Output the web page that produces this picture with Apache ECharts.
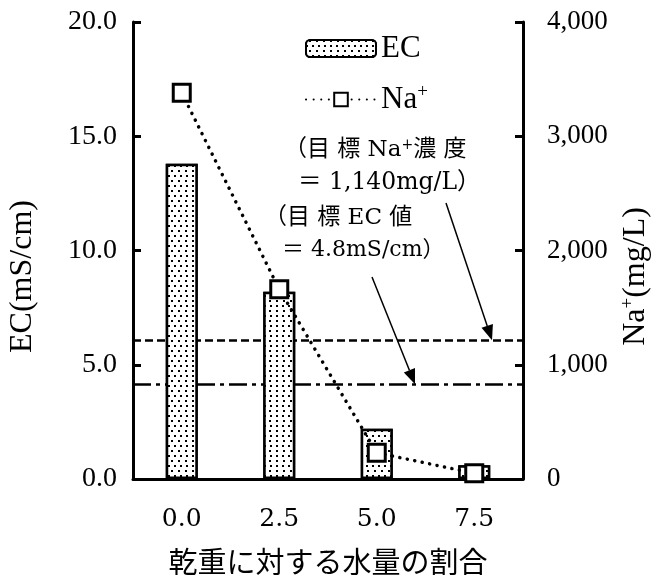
<!DOCTYPE html>
<html><head><meta charset="utf-8">
<script src="https://cdn.jsdelivr.net/npm/echarts@6/dist/echarts.min.js"></script>
<style>html,body{margin:0;padding:0;background:#fff}#c{width:659px;height:575px}</style>
</head><body><div id="c"></div>
<script>
// ---- data ----
const categories = ['0.0', '2.5', '5.0', '7.5'];
const ecValues = [13.8, 8.2, 2.2, 0.6];          // EC (mS/cm), bars, left axis
const naValues = [3380, 1660, 230, 50];          // Na+ (mg/L), line, right axis
const ecTicks = [0, 5, 10, 15, 20];
const naTicks = [0, 1000, 2000, 3000, 4000];
const ecTargetLine = 4.15;                       // dash-dot target line (left axis)
const naTargetLine = 1215;                       // dashed target line (right axis)
const naNote = ['（目 標 Na{sup|+}濃 度', '＝ 1,140mg/L）'];
const ecNote = ['（目 標 EC 値', '＝ 4.8mS/cm）'];

const SERIF = "'Liberation Serif','Times New Roman',serif";
const CENT = "'DejaVu Serif','Noto Sans CJK JP',serif";
const CJK = "'Noto Sans CJK JP','Noto Sans CJK SC',sans-serif";

const chart = echarts.init(document.getElementById('c'), null, {renderer: 'canvas'});

const option = {
  animation: false,
  backgroundColor: '#fff',
  grid: {left: 133, right: 136, top: 22, bottom: 96, containLabel: false, outerBoundsMode: 'none'},
  legend: [
    {data: ['EC'], left: 300, top: 28, itemWidth: 70, itemHeight: 17, itemGap: 6,
     textStyle: {fontFamily: SERIF, fontSize: 31, color: '#000'}, selectedMode: false},
    {data: ['Na+'], left: 300, top: 78, itemWidth: 70, itemHeight: 17, itemGap: 6,
     formatter: () => 'Na{sup|+}',
     textStyle: {fontFamily: SERIF, fontSize: 31, color: '#000',
       rich: {sup: {fontFamily: SERIF, fontSize: 19, color: '#000', verticalAlign: 'top', padding: [0, 0, 14, 0]}}},
     selectedMode: false}
  ],
  xAxis: {
    type: 'category', data: categories,
    axisLine: {lineStyle: {color: '#000', width: 3}},
    axisTick: {show: false},
    axisLabel: {fontFamily: CENT, fontSize: 25, color: '#000', margin: 28},
    name: '乾重に対する水量の割合', nameLocation: 'middle', nameGap: 68,
    nameTextStyle: {fontFamily: CJK, fontSize: 29, color: '#000'}
  },
  yAxis: [
    {
      type: 'value', position: 'left', min: ecTicks[0], max: ecTicks[ecTicks.length - 1], interval: ecTicks[1] - ecTicks[0],
      axisLine: {show: true, lineStyle: {color: '#000', width: 3}},
      axisTick: {show: true, inside: true, length: 8, lineStyle: {color: '#000', width: 3}},
      axisLabel: {fontFamily: SERIF, fontSize: 28, color: '#000', margin: 16, formatter: v => v.toFixed(1)},
      splitLine: {show: false},
      name: 'EC(mS/cm)', nameLocation: 'middle', nameRotate: 90, nameGap: 94,
      nameTextStyle: {fontFamily: SERIF, fontSize: 32, color: '#000', padding: [0, 52, 0, 0]}
    },
    {
      type: 'value', position: 'right', min: naTicks[0], max: naTicks[naTicks.length - 1], interval: naTicks[1] - naTicks[0],
      axisLine: {show: true, lineStyle: {color: '#000', width: 3}},
      axisTick: {show: true, inside: true, length: 8, lineStyle: {color: '#000', width: 3}},
      axisLabel: {fontFamily: SERIF, fontSize: 27, color: '#000', margin: 24, formatter: v => v.toLocaleString('en-US')},
      splitLine: {show: false},
      name: 'Na{sup|+}(mg/L)', nameLocation: 'middle', nameRotate: 90, nameGap: 94,
      nameTextStyle: {fontFamily: SERIF, fontSize: 32, color: '#000', padding: [0, 52, 0, 0],
        rich: {sup: {fontFamily: SERIF, fontSize: 19, color: '#000', verticalAlign: 'top', padding: [0, 0, 14, 0]}}}
    }
  ],
  series: [
    {
      name: 'EC', type: 'bar', data: ecValues, barWidth: 32, z: 2,
      itemStyle: {
        color: '#fff', borderColor: '#000', borderWidth: 2.5,
        decal: {symbol: 'rect', symbolSize: 1, color: '#000', backgroundColor: '#fff',
                dashArrayX: [[1.4, 3.6], [0, 2.5, 1.4, 1.1]], dashArrayY: [1.4, 2.4]}
      },
      markLine: {
        silent: true, symbol: 'none', label: {show: false}, z: 1,
        lineStyle: {color: '#000', width: 2.5, type: [18, 5, 4, 5]},
        data: [{yAxis: ecTargetLine}]
      }
    },
    {
      name: 'Na+', type: 'line', yAxisIndex: 1, data: naValues, smooth: false, z: 5,
      symbol: 'rect', symbolSize: 17, showAllSymbol: true,
      lineStyle: {color: '#000', width: 3.5, type: [0.1, 7.5], cap: 'round'},
      itemStyle: {color: '#fff', borderColor: '#000', borderWidth: 3},
      markLine: {
        silent: true, symbol: 'none', label: {show: false}, z: 1,
        lineStyle: {color: '#000', width: 2.5, type: [8, 4]},
        data: [{yAxis: naTargetLine}]
      }
    }
  ]
};
chart.setOption(option);

// ---- annotations (text + arrows) ----
function arrow(x1, y1, x2, y2) {
  const dx = x2 - x1, dy = y2 - y1, L = Math.hypot(dx, dy);
  const ux = dx / L, uy = dy / L, len = 15, hw = 6;
  const bx = x2 - ux * len, by = y2 - uy * len;
  return [
    {type: 'line', shape: {x1, y1, x2: bx, y2: by}, style: {stroke: '#000', lineWidth: 1.5}, z: 10},
    {type: 'polygon', shape: {points: [[x2, y2], [bx - uy * hw, by + ux * hw], [bx + uy * hw, by - ux * hw]]},
     style: {fill: '#000'}, z: 10}
  ];
}
const naTipY = chart.convertToPixel({yAxisIndex: 1}, naTargetLine);
const ecTipY = chart.convertToPixel({yAxisIndex: 0}, ecTargetLine);
const noteRich = {sup: {fontFamily: CENT, fontSize: 14, fill: '#000', verticalAlign: 'top', padding: [0, 0, 9, 0]}};
function note(text, x, y, size) {
  return {type: 'text', x, y, z: 10,
    style: {text, fontFamily: CENT, fontSize: size, fill: '#000', verticalAlign: 'middle', rich: noteRich}};
}
chart.setOption({
  graphic: [
    note(naNote[0], 284, 150, 23),
    note(naNote[1], 298, 183, 23.5),
    note(ecNote[0], 264, 218, 23),
    note(ecNote[1], 282, 250, 22),
    ...arrow(446, 203, 492, naTipY),
    ...arrow(372, 277, 415, ecTipY)
  ]
});
</script>
</body></html>
